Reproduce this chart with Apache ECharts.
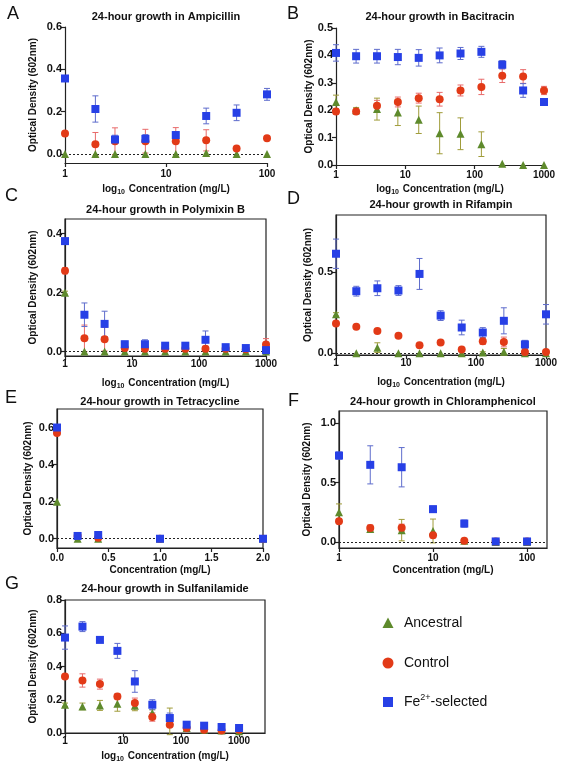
<!DOCTYPE html>
<html><head><meta charset="utf-8">
<script src="https://cdn.jsdelivr.net/npm/echarts@6/dist/echarts.min.js"></script>
<style>html,body{margin:0;padding:0;background:#fff}#c{width:566px;height:765px}</style>
</head><body><div id="c"></div>
<script>
// ---------------- DATA ----------------
// Panel A – Ampicillin
const A_conc = [1, 2, 3.125, 6.25, 12.5, 25, 50, 100];
const A_anc = [0.0, 0.0, 0.0, 0.0, 0.0, 0.005, 0.0, 0.0];
const A_anc_err = [0, 0, 0, 0, 0, 0, 0, 0];
const A_ctl = [0.097, 0.047, 0.061, 0.061, 0.061, 0.065, 0.027, 0.075];
const A_ctl_err = [0.01, 0.055, 0.063, 0.056, 0.064, 0.05, 0.005, 0.005];
const A_fe = [0.357, 0.213, 0.069, 0.072, 0.09, 0.18, 0.195, 0.282];
const A_fe_err = [0.005, 0.062, 0.02, 0.02, 0.015, 0.037, 0.037, 0.028];
const A_xTicks = [1, 10, 100];
const A_yTicks = [0, 0.2, 0.4, 0.6];

// Panel B – Bacitracin
const B_conc = [1, 1.95, 3.9, 7.8, 15.6, 31.25, 62.5, 125, 250, 500, 1000];
const B_anc = [0.23, 0.2, 0.204, 0.192, 0.165, 0.116, 0.114, 0.076, 0.005, 0.0, 0.0];
const B_anc_err = [0.025, 0.01, 0.04, 0.048, 0.05, 0.075, 0.058, 0.045, 0, 0, 0];
const B_ctl = [0.195, 0.195, 0.216, 0.23, 0.244, 0.24, 0.272, 0.285, 0.326, 0.323, 0.272];
const B_ctl_err = [0.01, 0.01, 0.02, 0.018, 0.018, 0.025, 0.02, 0.028, 0.025, 0.025, 0.015];
const B_fe = [0.409, 0.397, 0.397, 0.394, 0.391, 0.40, 0.407, 0.413, 0.366, 0.272, 0.23];
const B_fe_err = [0.03, 0.025, 0.025, 0.028, 0.03, 0.027, 0.022, 0.02, 0.015, 0.025, 0.01];
const B_xTicks = [1, 10, 100, 1000];
const B_yTicks = [0, 0.1, 0.2, 0.3, 0.4, 0.5];

// Panel C – Polymixin B
const C_conc = [1, 1.95, 3.9, 7.8, 15.6, 31.25, 62.5, 125, 250, 500, 1000];
const C_anc = [0.2, 0.0, 0.0, 0.0, 0.0, 0.0, 0.0, 0.0, 0.0, 0.0, 0.0];
const C_anc_err = [0.005, 0, 0, 0, 0, 0, 0, 0, 0, 0, 0];
const C_ctl = [0.274, 0.045, 0.042, 0.012, 0.01, 0.01, 0.01, 0.01, 0.01, 0.008, 0.024];
const C_ctl_err = [0.01, 0.045, 0.04, 0.01, 0.008, 0.008, 0.008, 0.008, 0.008, 0.008, 0.02];
const C_fe = [0.375, 0.125, 0.094, 0.025, 0.025, 0.02, 0.02, 0.04, 0.015, 0.012, 0.005];
const C_fe_err = [0.008, 0.04, 0.043, 0.01, 0.015, 0.008, 0.008, 0.03, 0.006, 0.006, 0.005];
const C_xTicks = [1, 10, 100, 1000];
const C_yTicks = [0, 0.2, 0.4];

// Panel D – Rifampin
const D_conc = [1, 1.95, 3.9, 7.8, 15.6, 31.25, 62.5, 125, 250, 500, 1000];
const D_anc = [0.24, 0.0, 0.035, 0.0, 0.0, 0.0, 0.0, 0.005, 0.01, 0.0, 0.0];
const D_anc_err = [0.01, 0, 0.03, 0, 0, 0, 0, 0.005, 0.02, 0, 0];
const D_ctl = [0.183, 0.163, 0.138, 0.108, 0.05, 0.067, 0.024, 0.075, 0.07, 0.008, 0.008];
const D_ctl_err = [0.01, 0.005, 0.008, 0.008, 0.01, 0.01, 0.01, 0.02, 0.03, 0.005, 0.005];
const D_fe = [0.612, 0.382, 0.40, 0.386, 0.488, 0.232, 0.159, 0.128, 0.20, 0.055, 0.24];
const D_fe_err = [0.09, 0.03, 0.045, 0.03, 0.095, 0.03, 0.045, 0.03, 0.08, 0.025, 0.06];
const D_xTicks = [1, 10, 100, 1000];
const D_yTicks = [0, 0.5];

// Panel E – Tetracycline
const E_conc = [0, 0.2, 0.4, 1.0, 2.0];
const E_anc = [0.2, 0.0, 0.0, 0.0, 0.0];
const E_anc_err = [0, 0, 0, 0, 0];
const E_ctl = [0.57, 0.015, 0.005, 0.0, 0.0];
const E_ctl_err = [0.01, 0.005, 0.005, 0, 0];
const E_fe = [0.6, 0.015, 0.02, 0.0, 0.0];
const E_fe_err = [0.01, 0.005, 0.008, 0, 0];
const E_xTicks = [0, 0.5, 1.0, 1.5, 2.0];
const E_yTicks = [0, 0.2, 0.4, 0.6];

// Panel F – Chloramphenicol
const F_conc = [1, 2.15, 4.64, 10, 21.5, 46.4, 100];
const F_anc = [0.25, 0.11, 0.1, 0.093, 0.01, 0.0, 0.0];
const F_anc_err = [0.07, 0.02, 0.09, 0.1, 0.01, 0, 0];
const F_ctl = [0.175, 0.118, 0.12, 0.056, 0.01, 0.005, 0.005];
const F_ctl_err = [0.02, 0.025, 0.03, 0.02, 0.005, 0, 0];
const F_fe = [0.726, 0.648, 0.628, 0.276, 0.155, 0.005, 0.005];
const F_fe_err = [0.03, 0.16, 0.165, 0.025, 0.03, 0, 0];
const F_xTicks = [1, 10, 100];
const F_yTicks = [0, 0.5, 1.0];

// Panel G – Sulfanilamide
const G_conc = [1, 2, 4, 8, 16, 32, 64, 125, 250, 500, 1000];
const G_anc = [0.17, 0.16, 0.166, 0.176, 0.164, 0.12, 0.07, 0.03, 0.02, 0.015, 0.01];
const G_anc_err = [0.01, 0.02, 0.03, 0.045, 0.03, 0.02, 0.08, 0.01, 0.005, 0.005, 0.005];
const G_ctl = [0.34, 0.316, 0.294, 0.22, 0.18, 0.096, 0.05, 0.03, 0.02, 0.015, 0.02];
const G_ctl_err = [0.01, 0.04, 0.03, 0.015, 0.03, 0.025, 0.01, 0.005, 0.005, 0.005, 0.005];
const G_fe = [0.574, 0.64, 0.56, 0.494, 0.31, 0.17, 0.09, 0.05, 0.044, 0.036, 0.03];
const G_fe_err = [0.07, 0.03, 0.01, 0.045, 0.065, 0.03, 0.03, 0.01, 0.005, 0.005, 0.005];
const G_xTicks = [1, 10, 100, 1000];
const G_yTicks = [0, 0.2, 0.4, 0.6, 0.8];

const SERIES_NAMES = ['Ancestral', 'Control', 'Fe2+-selected'];

// ---------------- STYLE / LAYOUT ----------------
const FONT = '"Liberation Sans", Arial, Helvetica, sans-serif';
const TXT = '#111';
const AX = '#222';
const COL = { anc: '#5e8a2c', ctl: '#e23a17', fe: '#2740e6' };
const ECOL = { anc: '#a09c3a', ctl: '#e86a6a', fe: '#5e6ccc' };
const LOGNAME = '{b|log}{s|10}{b| Concentration (mg/L)}';

const panels = [
  { letter: 'A', lx: 7, ly: 15, title: '24-hour growth in Ampicillin', ty: 17,
    conc: A_conc, anc: A_anc, ancE: A_anc_err, ctl: A_ctl, ctlE: A_ctl_err, fe: A_fe, feE: A_fe_err,
    grid: { left: 65, top: 27, width: 202, height: 136 }, frame: false,
    xType: 'log', xMin: 1, xMax: 100, xTicks: A_xTicks, yMin: -0.042, yMax: 0.6, yTicks: A_yTicks,
    zero: true, yGap: 27, xGap: 19, xMargin: 6, xName: LOGNAME },
  { letter: 'B', lx: 287, ly: 15, title: '24-hour growth in Bacitracin', ty: 17,
    conc: B_conc, anc: B_anc, ancE: B_anc_err, ctl: B_ctl, ctlE: B_ctl_err, fe: B_fe, feE: B_fe_err,
    grid: { left: 336, top: 28, width: 208, height: 137 }, frame: false,
    xType: 'log', xMin: 1, xMax: 1000, xTicks: B_xTicks, yMin: 0, yMax: 0.5, yTicks: B_yTicks,
    zero: false, yGap: 19, xGap: 17, xMargin: 5, xName: LOGNAME },
  { letter: 'C', lx: 5, ly: 197, title: '24-hour growth in Polymixin B', ty: 210,
    conc: C_conc, anc: C_anc, ancE: C_anc_err, ctl: C_ctl, ctlE: C_ctl_err, fe: C_fe, feE: C_fe_err,
    grid: { left: 65, top: 219, width: 201, height: 137 }, frame: true,
    xType: 'log', xMin: 1, xMax: 1000, xTicks: C_xTicks, yMin: -0.015, yMax: 0.45, yTicks: C_yTicks,
    zero: true, yGap: 27, xGap: 20, xMargin: 3, xName: LOGNAME },
  { letter: 'D', lx: 287, ly: 200, title: '24-hour growth in Rifampin', ty: 205,
    conc: D_conc, anc: D_anc, ancE: D_anc_err, ctl: D_ctl, ctlE: D_ctl_err, fe: D_fe, feE: D_fe_err,
    grid: { left: 336, top: 215, width: 210, height: 140 }, frame: true,
    xType: 'log', xMin: 1, xMax: 1000, xTicks: D_xTicks, yMin: -0.01, yMax: 0.85, yTicks: D_yTicks,
    zero: true, yGap: 23, xGap: 20, xMargin: 3, xName: LOGNAME },
  { letter: 'E', lx: 5, ly: 399, title: '24-hour growth in Tetracycline', ty: 402,
    conc: E_conc, anc: E_anc, ancE: E_anc_err, ctl: E_ctl, ctlE: E_ctl_err, fe: E_fe, feE: E_fe_err,
    grid: { left: 57, top: 409, width: 206, height: 139 }, frame: true,
    xType: 'value', xMin: 0, xMax: 2, xTicks: E_xTicks, yMin: -0.05, yMax: 0.7, yTicks: E_yTicks,
    zero: true, yGap: 24, xGap: 17, xMargin: 5, xName: 'Concentration (mg/L)' },
  { letter: 'F', lx: 288, ly: 402, title: '24-hour growth in Chloramphenicol', ty: 402,
    conc: F_conc, anc: F_anc, ancE: F_anc_err, ctl: F_ctl, ctlE: F_ctl_err, fe: F_fe, feE: F_fe_err,
    grid: { left: 339, top: 411, width: 208, height: 137 }, frame: true,
    xType: 'log', xMin: 1, xMax: 163, xTicks: F_xTicks, yMin: -0.05, yMax: 1.1, yTicks: F_yTicks,
    zero: true, yGap: 27, xGap: 17, xMargin: 5, xName: 'Concentration (mg/L)' },
  { letter: 'G', lx: 5, ly: 585, title: '24-hour growth in Sulfanilamide', ty: 589,
    conc: G_conc, anc: G_anc, ancE: G_anc_err, ctl: G_ctl, ctlE: G_ctl_err, fe: G_fe, feE: G_fe_err,
    grid: { left: 65, top: 600, width: 200, height: 133 }, frame: true,
    xType: 'log', xMin: 1, xMax: 2800, xTicks: G_xTicks, yMin: 0, yMax: 0.8, yTicks: G_yTicks,
    zero: false, yGap: 27, xGap: 16, xMargin: 3, xName: LOGNAME }
];

function errRender(color) {
  return function (params, api) {
    const x = api.value(0), y = api.value(1), e = api.value(2);
    if (!e) return { type: 'group', children: [] };
    const p1 = api.coord([x, y + e]), p2 = api.coord([x, y - e]);
    const w = 3, st = { stroke: color, lineWidth: 1 };
    return { type: 'group', children: [
      { type: 'line', shape: { x1: p1[0], y1: p1[1], x2: p2[0], y2: p2[1] }, style: st },
      { type: 'line', shape: { x1: p1[0] - w, y1: p1[1], x2: p1[0] + w, y2: p1[1] }, style: st },
      { type: 'line', shape: { x1: p2[0] - w, y1: p2[1], x2: p2[0] + w, y2: p2[1] }, style: st }
    ]};
  };
}

const grids = [], xAxes = [], yAxes = [], series = [], graphics = [];
const lineStyle = { color: AX, width: 1.2 };
const nameStyle = {
  fontFamily: FONT, fontSize: 10, fontWeight: 'bold', color: TXT,
  rich: {
    b: { fontFamily: FONT, fontSize: 10, fontWeight: 'bold', color: TXT },
    s: { fontFamily: FONT, fontSize: 7, fontWeight: 'bold', color: TXT, padding: [7, 1, 0, 0] }
  }
};

panels.forEach((p, i) => {
  grids.push(Object.assign({
    show: p.frame, borderColor: AX, borderWidth: 1.2, backgroundColor: 'transparent'
  }, p.grid));
  const isLog = p.xType === 'log';
  xAxes.push({
    gridIndex: i, type: p.xType, logBase: 10, min: p.xMin, max: p.xMax,
    axisLine: { show: true, onZero: false, lineStyle },
    axisTick: { show: true, length: 4, customValues: p.xTicks, lineStyle },
    axisLabel: { customValues: p.xTicks, margin: p.xMargin, fontFamily: FONT, fontSize: 10, fontWeight: 'bold', color: TXT,
      formatter: v => isLog ? String(Math.round(v)) : Number(v).toFixed(1) },
    splitLine: { show: false }, minorTick: { show: false },
    name: p.xName, nameLocation: 'middle', nameGap: p.xGap, nameTextStyle: nameStyle
  });
  yAxes.push({
    gridIndex: i, type: 'value', min: p.yMin, max: p.yMax,
    axisLine: { show: true, onZero: false, lineStyle },
    axisTick: { show: true, length: 4, customValues: p.yTicks, lineStyle },
    axisLabel: { customValues: p.yTicks, margin: 3, fontFamily: FONT, fontSize: 11, fontWeight: 'bold', color: TXT,
      formatter: v => Number(v).toFixed(1) },
    splitLine: { show: false },
    name: 'Optical Density (602nm)', nameLocation: 'middle', nameRotate: 90, nameGap: p.yGap,
    nameTextStyle: { fontFamily: FONT, fontSize: 10, fontWeight: 'bold', color: TXT }
  });
  const groups = [
    { key: 'anc', vals: p.anc, errs: p.ancE, sym: 'triangle', size: 8, name: SERIES_NAMES[0] },
    { key: 'ctl', vals: p.ctl, errs: p.ctlE, sym: 'circle', size: 8, name: SERIES_NAMES[1] },
    { key: 'fe', vals: p.fe, errs: p.feE, sym: 'rect', size: 8, name: SERIES_NAMES[2] }
  ];
  groups.forEach(g => {
    series.push({
      type: 'custom', xAxisIndex: i, yAxisIndex: i, z: 1, clip: false, silent: true,
      renderItem: errRender(ECOL[g.key]), encode: { x: 0, y: 1 },
      data: p.conc.map((c, k) => [c, g.vals[k], g.errs[k]])
    });
  });
  groups.forEach((g, gi) => {
    const s = {
      type: 'scatter', name: g.name, xAxisIndex: i, yAxisIndex: i, z: 3 + gi, clip: false,
      symbol: g.sym, symbolSize: g.size, itemStyle: { color: COL[g.key], opacity: 1 },
      data: p.conc.map((c, k) => [c, g.vals[k]])
    };
    if (gi === 0 && p.zero) {
      s.markLine = { silent: true, symbol: 'none', label: { show: false }, z: 2,
        lineStyle: { color: '#222', width: 1, type: [2, 2] }, data: [{ yAxis: 0 }] };
    }
    series.push(s);
  });
  graphics.push({ type: 'text', left: p.lx, top: p.ly - 10, style: { text: p.letter, fontFamily: FONT, fontSize: 18, fill: TXT } });
  graphics.push({ type: 'text', x: p.grid.left + p.grid.width / 2, y: p.ty,
    style: { text: p.title, fontFamily: FONT, fontSize: 11, fontWeight: 'bold', fill: TXT, align: 'center', verticalAlign: 'middle' } });
});

// legend (drawn as graphic)
const legY = [623, 663, 702];
graphics.push({ type: 'polygon', shape: { points: [[388, 617.5], [393.5, 628], [382.5, 628]] }, style: { fill: COL.anc } });
graphics.push({ type: 'circle', shape: { cx: 388, cy: 663, r: 5.5 }, style: { fill: COL.ctl } });
graphics.push({ type: 'rect', shape: { x: 383, y: 697, width: 10, height: 10 }, style: { fill: COL.fe } });
graphics.push({ type: 'text', x: 404, y: legY[0], style: { text: 'Ancestral', fontFamily: FONT, fontSize: 14, fill: TXT, verticalAlign: 'middle' } });
graphics.push({ type: 'text', x: 404, y: legY[1], style: { text: 'Control', fontFamily: FONT, fontSize: 14, fill: TXT, verticalAlign: 'middle' } });
graphics.push({ type: 'text', x: 404, y: legY[2], style: {
  text: '{a|Fe}{s|2+}{a|-selected}', fontFamily: FONT, fontSize: 14, fill: TXT, verticalAlign: 'middle',
  rich: { a: { fontFamily: FONT, fontSize: 14, fill: TXT }, s: { fontFamily: FONT, fontSize: 9, fill: TXT, padding: [0, 0, 8, 0] } } } });

const chart = echarts.init(document.getElementById('c'), null, { renderer: 'canvas' });
chart.setOption({
  animation: false, backgroundColor: '#fff',
  grid: grids, xAxis: xAxes, yAxis: yAxes, series, graphic: graphics
});
</script></body></html>
